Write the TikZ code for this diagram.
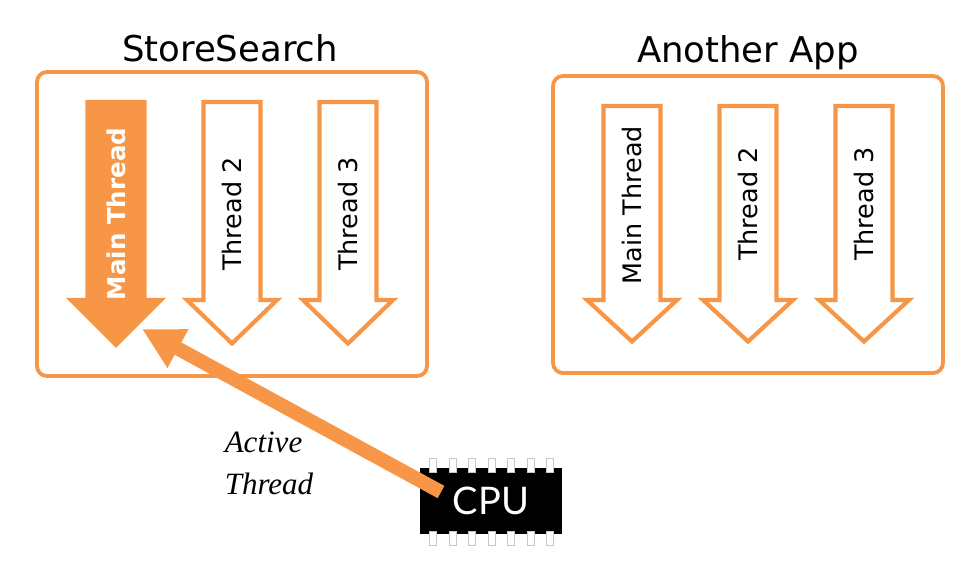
\documentclass[tikz,border=0pt]{standalone}
\usepackage{fontspec}
\setmainfont{DejaVu Sans}
\newfontfamily\chipfont{Lato}
\newfontfamily\notefont{Liberation Serif}
\usepackage{tikz}
\usetikzlibrary{arrows.meta}

\definecolor{threadorange}{HTML}{F79646}

\tikzset{
    appbox/.style={draw=threadorange, line width=3.8pt, rounded corners=10pt},
    apptitle/.style={font=\fontsize{35.5}{40}\selectfont},
    threadshape/.style={draw=threadorange, line width=4.2pt, fill=white, miter limit=10},
    activeshape/.style={threadshape, fill=threadorange},
    threadlabel/.style={rotate=90, font=\fontsize{25.5}{28}\selectfont},
    pinbox/.style={draw=black!22, line width=0.9pt, fill=white}
}

% center x, top y, tip y, half width of the head
\newcommand{\threadarrow}[5]{
    \draw[#5] (#1-28.5, #2) -- (#1+28.5, #2) -- (#1+28.5, 300) -- (#1+#4, 300)
        -- (#1, #3) -- (#1-#4, 300) -- (#1-28.5, 300) -- cycle;
}

\begin{document}
\begin{tikzpicture}[x=1pt, y=-1pt]
    \useasboundingbox (0, 0) rectangle (980, 584);

    % StoreSearch
    \draw[appbox] (37, 72) rectangle (427, 376);
    \node[apptitle] (storetitle) at (230, 48) {StoreSearch};
    \threadarrow{116}{102}{345}{45}{activeshape}
    \node[threadlabel, text=white, font=\fontsize{24.5}{28}\selectfont\bfseries] (storemain) at (116, 214) {Main Thread};
    \threadarrow{232}{102}{343.5}{45}{threadshape}
    \node[threadlabel] (storetwo) at (232, 214) {Thread 2};
    \threadarrow{348}{102}{343.5}{45}{threadshape}
    \node[threadlabel] (storethree) at (348, 214) {Thread 3};

    % Another App
    \draw[appbox] (553, 76) rectangle (943, 373);
    \node[apptitle] (othertitle) at (748, 53) {Another App};
    \threadarrow{632}{106}{341.5}{45}{threadshape}
    \node[threadlabel] (othermain) at (632, 205) {Main Thread};
    \threadarrow{748}{106}{341.5}{45}{threadshape}
    \node[threadlabel] (othertwo) at (748, 204) {Thread 2};
    \threadarrow{864}{106}{341.5}{45}{threadshape}
    \node[threadlabel] (otherthree) at (864, 204) {Thread 3};

    % CPU body and pins
    \node[fill=black, text=white, minimum width=142pt, minimum height=66pt, inner sep=0pt,
          font=\chipfont\fontsize{38}{44}\selectfont] (cpu) at (491, 501) {CPU};
    \foreach \px in {433, 452.5, 472, 491.5, 511, 530.5, 550} {
        \draw[pinbox] (\px-3.5, 458) rectangle (\px+3.5, 472);
        \draw[pinbox] (\px-3.5, 531) rectangle (\px+3.5, 545);
    }

    % active thread connector
    \coordinate (cpuend) at (441, 492);
    \coordinate (maintip) at (142, 329);
    \draw[threadorange, line width=14pt, -{Triangle[length=41pt, width=41pt]}] (cpuend) -- (maintip);
    \node[font=\notefont\itshape\fontsize{31}{42}\selectfont, align=left] (activelabel) at (269, 463) {Active\\Thread};
\end{tikzpicture}
\end{document}
